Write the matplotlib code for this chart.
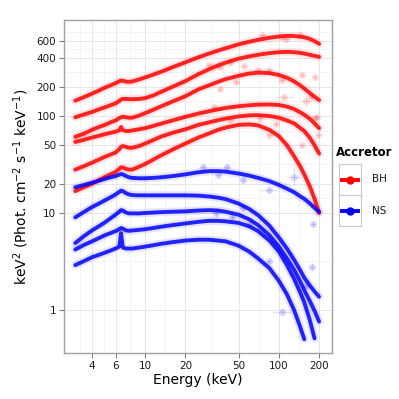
import numpy as np
import matplotlib
matplotlib.use("Agg")
import matplotlib.pyplot as plt
from matplotlib.patches import Rectangle
from matplotlib.lines import Line2D

# energias comunes (keV)
energy = [3, 3.5, 4, 4.5, 5, 5.5, 6, 6.4, 6.6, 6.8, 7.2, 7.6, 8, 9, 10, 11.5, 13, 16, 20, 25,
          30, 35, 40, 50, 60, 70, 85, 100, 115, 130, 145, 155, 170, 185, 200]
nan = np.nan

# modelos BH (rojo)
bh_1 = [144, 157, 170, 183, 196, 207, 218, 228, 232, 231, 226, 225, 227, 238, 250, 267, 284, 318, 358, 403,
        440, 472, 500, 548, 583, 610, 640, 660, 670, 668, 658, 648, 625, 592, 555]
bh_2 = [97, 104, 110, 117, 123, 129, 135, 143, 148, 150, 150, 149, 149, 150, 153, 163, 176, 200, 229, 270,
        303, 332, 355, 390, 412, 428, 445, 455, 458, 455, 447, 440, 428, 417, 408]
bh_3 = [61, 66, 72, 77, 81, 86, 90, 95, 97, 98, 97, 96, 96, 101, 107, 116, 125, 141, 160, 188,
        207, 225, 240, 260, 274, 280, 277, 265, 248, 228, 206, 192, 173, 158, 146]
bh_4 = [54, 57, 60, 62.5, 65, 67, 69, 71, 77, 71.5, 70, 70, 71, 73, 75, 79, 83, 90, 98, 106,
        112, 117, 121, 126, 129, 131, 131.5, 130, 125, 118, 109, 103, 94, 84, 75]
bh_5 = [28, 30.5, 33, 35.5, 38, 40, 42, 45.5, 48, 49, 48, 47, 47, 49, 52, 56.5, 61, 67, 73, 81,
        86, 90.5, 94, 99, 101.5, 102, 100, 96, 90, 84, 75, 70, 60, 50, 41]
bh_6 = [16.8, 18.5, 20, 21.8, 23.5, 25, 26.5, 28.5, 29.5, 29.5, 28.5, 28, 28, 30, 32, 35.5, 39, 45, 52, 60,
        66, 72, 76, 81, 82, 80, 72, 62, 50, 38.5, 30, 25, 19, 14, 10]

# modelos NS (azul)
ns_1 = [18.4, 19.5, 20.5, 21.5, 22.5, 23.3, 24, 24.8, 25.2, 25, 24, 23.3, 23, 22.8, 22.8, 23, 23.3, 24, 25, 26.3,
        27, 27, 26.7, 25.5, 24.3, 23, 21.3, 19.5, 17.8, 16.4, 14.8, 14, 12.6, 11.3, 10.3]
ns_2 = [9, 10.3, 11.5, 12.5, 13.5, 14.5, 15.5, 16.5, 17, 16.8, 16, 15.5, 15.3, 15.2, 15.2, 15.2, 15.2, 15.2, 15.2, 15.1,
        14.8, 14.4, 13.9, 12.5, 11, 9.5, 7.4, 5.6, 4.3, 3.3, 2.55, 2.15, 1.8, 1.55, 1.37]
ns_3 = [4.9, 5.8, 6.6, 7.3, 8, 8.8, 9.6, 10.3, 10.7, 10.6, 10.1, 9.9, 9.9, 9.9, 10, 10.1, 10.2, 10.3, 10.4, 10.6,
        10.7, 10.6, 10.3, 9.6, 8.6, 7.5, 5.9, 4.5, 3.4, 2.6, 1.95, 1.6, 1.25, 0.98, 0.76]
ns_4 = [4.2, 4.7, 5.1, 5.5, 5.9, 6.2, 6.5, 6.8, 7.0, 6.9, 6.6, 6.55, 6.6, 6.7, 6.8, 7.0, 7.2, 7.5, 7.8, 8.1,
        8.3, 8.3, 8.2, 7.9, 7.3, 6.5, 5.2, 4.0, 2.9, 2.1, 1.5, 1.2, 0.8, 0.51, nan]
ns_5 = [2.9, 3.2, 3.5, 3.7, 3.9, 4.1, 4.3, 4.5, 6.2, 4.4, 4.3, 4.3, 4.3, 4.4, 4.5, 4.65, 4.8, 5.0, 5.2, 5.3,
        5.3, 5.2, 5.1, 4.6, 4.0, 3.4, 2.7, 2.0, 1.45, 1.0, 0.66, 0.5, nan, nan, nan]

bh_curves = [bh_1, bh_2, bh_3, bh_4, bh_5, bh_6]
ns_curves = [ns_1, ns_2, ns_3, ns_4, ns_5]

# puntos de datos (energia, flujo, error relativo en x, error relativo en y)
bh_pts_e = [75, 105, 113, 145, 30, 36, 43, 55, 70, 85, 36, 48, 105, 150, 185, 175, 110, 160, 33, 43, 72, 95, 185, 85, 148, 198, 192]
bh_pts_v = [684, 658, 620, 684, 335, 322, 362, 330, 298, 298, 191, 226, 233, 265, 250, 158, 156, 142, 123, 91, 95, 83, 95, 63, 50, 63, 98]
bh_pts_dx = [0.05, 0.05, 0.05, 0.05, 0.05, 0.05, 0.05, 0.05, 0.05, 0.05, 0.05, 0.05, 0.05, 0.05, 0.05, 0.05, 0.16, 0.1, 0.05, 0.05, 0.05, 0.05, 0.05, 0.05, 0.05, 0.05, 0.05]
bh_pts_dy = [0.06, 0.06, 0.06, 0.06, 0.06, 0.06, 0.06, 0.06, 0.06, 0.06, 0.06, 0.06, 0.06, 0.06, 0.06, 0.06, 0.06, 0.15, 0.06, 0.06, 0.06, 0.06, 0.06, 0.06, 0.06, 0.06, 0.06]

ns_pts_e = [27, 41, 35, 54, 85, 130, 180, 54, 178, 105, 85, 160, 34, 45, 60]
ns_pts_v = [30, 30, 24.6, 21.8, 17.2, 23.7, 7.7, 11.2, 2.8, 0.96, 3.2, 1.77, 9.9, 9.1, 7.5]
ns_pts_dx = [0.05, 0.05, 0.05, 0.05, 0.17, 0.13, 0.05, 0.05, 0.05, 0.17, 0.05, 0.05, 0.05, 0.05, 0.05]
ns_pts_dy = [0.08, 0.08, 0.08, 0.08, 0.08, 0.25, 0.08, 0.08, 0.08, 0.08, 0.08, 0.08, 0.08, 0.08, 0.08]

accretors = ["BH", "NS"]
colores = {"BH": "#ff0000", "NS": "#0000ff"}

x_ticks = [4, 6, 10, 20, 50, 100, 200]
y_ticks = [1, 10, 20, 50, 100, 200, 400, 600]

fig = plt.figure(figsize=(3.99, 3.99), dpi=100)
ax = fig.add_axes([64 / 399, 1 - 353 / 399, (332 - 64) / 399, (353 - 20) / 399])
ax.set_xscale("log")
ax.set_yscale("log")
ax.set_xlim(2.47, 250)
ax.set_ylim(0.36, 977)

# rejilla estilo ggplot (menores a media distancia en escala log)
for i in range(len(x_ticks) - 1):
    ax.axvline(np.sqrt(x_ticks[i] * x_ticks[i + 1]), color="#f3f3f3", lw=0.6, zorder=0)
ax.axvline(x_ticks[0] ** 1.5 / x_ticks[1] ** 0.5, color="#f3f3f3", lw=0.6, zorder=0)
for i in range(len(y_ticks) - 1):
    ax.axhline(np.sqrt(y_ticks[i] * y_ticks[i + 1]), color="#f3f3f3", lw=0.6, zorder=0)
ax.axhline(y_ticks[-1] ** 1.5 / y_ticks[-2] ** 0.5, color="#f3f3f3", lw=0.6, zorder=0)
for t in x_ticks:
    ax.axvline(t, color="#e6e6e6", lw=0.7, zorder=0)
for t in y_ticks:
    ax.axhline(t, color="#e6e6e6", lw=0.7, zorder=0)

# puntos con barras de error
for pe, pv, pdx, pdy, c in [(bh_pts_e, bh_pts_v, bh_pts_dx, bh_pts_dy, colores["BH"]),
                            (ns_pts_e, ns_pts_v, ns_pts_dx, ns_pts_dy, colores["NS"])]:
    pe = np.array(pe, float)
    pv = np.array(pv, float)
    xerr = [pe - pe / (1 + np.array(pdx)), pe * np.array(pdx)]
    yerr = [pv - pv / (1 + np.array(pdy)), pv * np.array(pdy)]
    ax.errorbar(pe, pv, xerr=xerr, yerr=yerr, fmt="o", ms=5, color=c, alpha=0.13,
                mew=0, elinewidth=1, capsize=0, zorder=1)

# curvas: halo suave + linea
for curvas, acc in [(bh_curves, "BH"), (ns_curves, "NS")]:
    for vals in curvas:
        ax.plot(energy, vals, color=colores[acc], lw=6, alpha=0.1, solid_capstyle="round", zorder=2)
        ax.plot(energy, vals, color=colores[acc], lw=2.8, alpha=0.85, solid_capstyle="round",
                solid_joinstyle="round", zorder=3)

ax.set_xticks(x_ticks)
ax.set_xticklabels([str(t) for t in x_ticks])
ax.set_yticks(y_ticks)
ax.set_yticklabels([str(t) for t in y_ticks])
ax.minorticks_off()
ax.tick_params(axis="both", length=3.5, width=0.8, color="#7f7f7f", labelsize=7.5,
               labelcolor="#1a1a1a", pad=2)
for s in ax.spines.values():
    s.set_color("#a0a0a0")
    s.set_linewidth(1.0)

ax.set_xlabel("Energy (keV)", fontsize=10, labelpad=2)
ax.set_ylabel(r"keV$^2$ (Phot. cm$^{-2}$ s$^{-1}$ keV$^{-1}$)", fontsize=10, labelpad=4)

# leyenda manual estilo ggplot
fig.text(336 / 399, 1 - 153 / 399, "Accretor", fontsize=8.5, fontweight="bold", va="center", ha="left")
for i, acc in enumerate(accretors):
    y0 = 164 + i * 31
    fig.patches.append(Rectangle((339 / 399, 1 - (y0 + 31) / 399), 22 / 399, 31 / 399,
                                 transform=fig.transFigure, facecolor="white",
                                 edgecolor="#c8c8c8", lw=0.8))
    yc = 1 - (y0 + 15.5) / 399
    fig.lines.append(Line2D([342 / 399, 358 / 399], [yc, yc], transform=fig.transFigure,
                            color=colores[acc], lw=2.8))
    fig.lines.append(Line2D([350 / 399], [yc], transform=fig.transFigure, marker="o",
                            ms=5, color=colores[acc]))
    fig.text(372 / 399, yc, acc, fontsize=7.5, va="center", ha="left", color="#1a1a1a")

fig.savefig("out.png", dpi=100)
